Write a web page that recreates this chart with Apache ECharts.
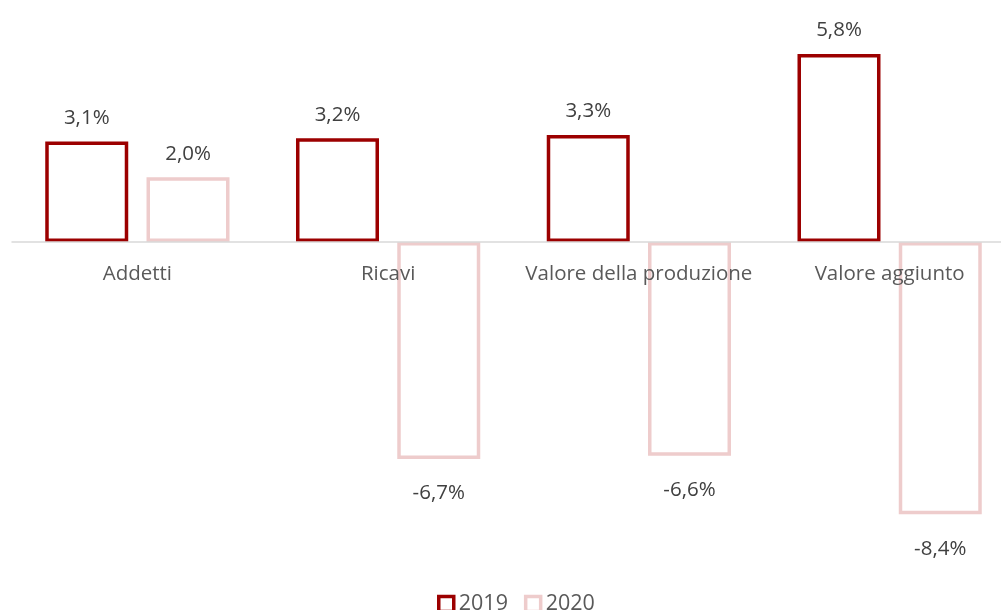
<!DOCTYPE html>
<html>
<head>
<meta charset="utf-8">
<script src="https://cdn.jsdelivr.net/npm/echarts@6/dist/echarts.min.js"></script>
<style>html,body{margin:0;padding:0;background:#fff}#c{width:1001px;height:610px}</style>
</head>
<body>
<div id="c"></div>
<script>
const categories = ['Addetti', 'Ricavi', 'Valore della produzione', 'Valore aggiunto'];
const seriesNames = ['2019', '2020'];
const values2019 = [3.1, 3.2, 3.3, 5.8];
const values2020 = [2.0, -6.7, -6.6, -8.4];

const FONT = 'Open Sans';
const FS = 20.5;
const fmt = v => v.toFixed(1).replace('.', ',') + '%';
const mkData = arr => arr.map(v => ({
  value: v,
  label: { position: v < 0 ? 'bottom' : 'top', distance: v < 0 ? 24 : 13 }
}));
const mkSeries = (name, arr, color) => ({
  name: name,
  type: 'bar',
  data: mkData(arr),
  barWidth: 83,
  barGap: '22%',
  itemStyle: { color: '#ffffff', borderColor: color, borderWidth: 3.5 },
  label: {
    show: true,
    formatter: p => fmt(p.value),
    color: '#404040',
    fontSize: FS,
    fontFamily: FONT
  }
});

const chart = echarts.init(document.getElementById('c'));
chart.setOption({
  animation: false,
  grid: { left: 12, top: 15.2, width: 1003, height: 518.4, containLabel: false, outerBoundsMode: 'none' },
  legend: {
    bottom: -10,
    left: 432,
    itemWidth: 15,
    itemHeight: 15,
    itemGap: 16,
    icon: 'rect',
    itemStyle: { borderWidth: 3.5 },
    textStyle: { color: '#595959', fontSize: 21.5, fontFamily: FONT },
    data: seriesNames
  },
  xAxis: {
    type: 'category',
    data: categories,
    offset: -291.6,
    axisLine: { onZero: false, lineStyle: { color: '#d9d9d9', width: 1.5 } },
    axisTick: { show: false },
    axisLabel: { color: '#595959', fontSize: FS, fontFamily: FONT, margin: 22, interval: 0 },
    z: 10
  },
  yAxis: {
    type: 'value',
    min: -9,
    max: 7,
    show: false,
    splitLine: { show: false }
  },
  series: [
    mkSeries(seriesNames[0], values2019, '#9c0000'),
    mkSeries(seriesNames[1], values2020, '#eecccc')
  ]
});
</script>
</body>
</html>
